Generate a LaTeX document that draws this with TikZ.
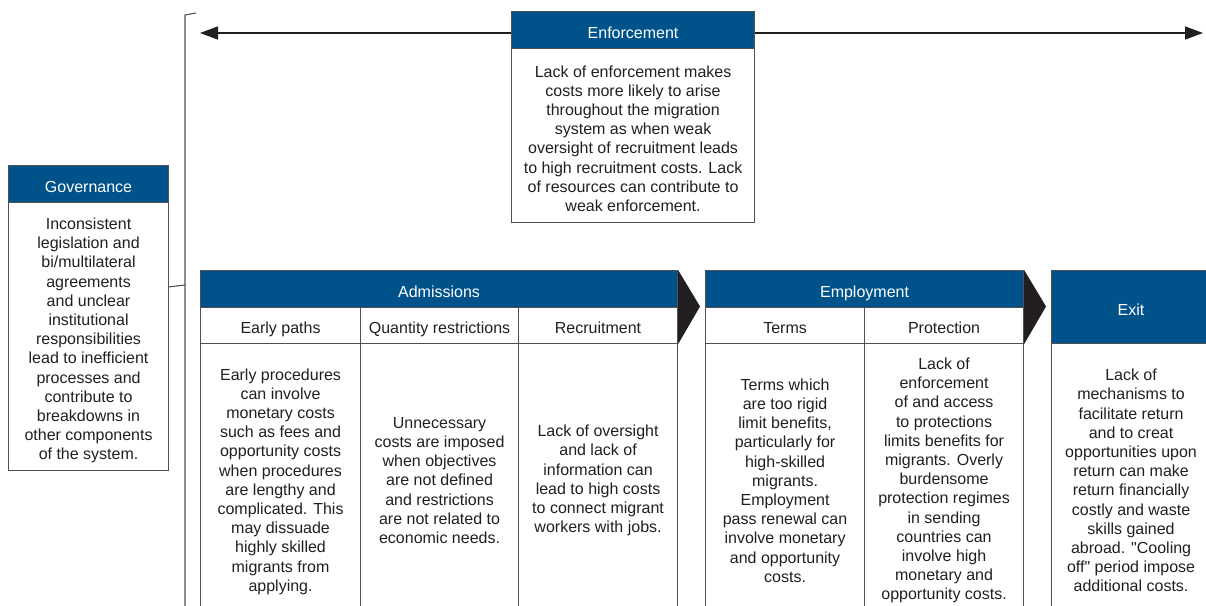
\documentclass[tikz,border=0pt]{standalone}
\usepackage{fontspec}
\setmainfont{Liberation Sans}
\usetikzlibrary{arrows.meta}
\definecolor{hblue}{RGB}{0,83,138}
\definecolor{bord}{RGB}{80,80,80}
\definecolor{ink}{RGB}{35,31,32}
\begin{document}
\begin{tikzpicture}[x=1pt,y=-1pt,
  box/.style={draw=bord, line width=1.1pt, anchor=north west, inner sep=0pt, align=center,
              font=\fontsize{16}{19.2}\selectfont},
  hdr/.style={box, fill=hblue, text=white, text height=16pt, text depth=0pt},
  sub/.style={box, fill=white, text=ink, text height=16pt, text depth=0pt},
  bodybox/.style={box, fill=white, text=ink},
  chev/.style={fill=ink, draw=none}
]
\useasboundingbox (0,0) rectangle (1206,605);
\clip (0,0) rectangle (1206,605);
\fill[white] (0,0) rectangle (1206,605);

% arrow
\coordinate (aL) at (200,33);
\coordinate (aR) at (1203,33);
\draw[ink, line width=1.5pt, {Triangle[length=18pt,width=13pt]}-{Triangle[length=18pt,width=13pt]}] (aL) -- (aR);

% bracket
\coordinate (bT) at (196,13);
\coordinate (bTc) at (185,15);
\coordinate (bB) at (185,620);
\coordinate (bJ) at (185,285);
\draw[bord, line width=1.1pt] (bT) -- (bTc) -- (bB);

% Enforcement
\node[hdr, minimum width=243pt, minimum height=37pt] (enfh) at (511,11) {Enforcement};
\node[bodybox, minimum width=243pt, minimum height=174pt] (enfb) at (511,48)
 {\rule{0pt}{17.7pt}Lack of enforcement makes\\costs more likely to arise\\throughout the migration\\system as when weak\\oversight of recruitment leads\\to high recruitment costs. Lack\\of resources can contribute to\\weak enforcement.};

% Governance
\node[hdr, minimum width=160pt, minimum height=37pt] (govh) at (8,165) {Governance};
\node[bodybox, minimum width=160pt, minimum height=268pt] (govb) at (8,202)
 {\rule{0pt}{19.7pt}Inconsistent\\legislation and\\bi/multilateral\\agreements\\and unclear\\institutional\\responsibilities\\lead to inefficient\\processes and\\contribute to\\breakdowns in\\other components\\of the system.};
\coordinate (gE) at (168,287);
\draw[bord, line width=1.1pt] (gE) -- (bJ);

% Admissions
\node[hdr, minimum width=477pt, minimum height=37pt] (admh) at (200,270) {Admissions};
\node[sub, minimum width=160pt, minimum height=36pt] (eps) at (200,307) {Early paths};
\node[sub, minimum width=158pt, minimum height=36pt] (qrs) at (360,307) {Quantity restrictions};
\node[sub, minimum width=159pt, minimum height=36pt] (recs) at (518,307) {Recruitment};
\node[bodybox, minimum width=160pt, minimum height=274pt] (epb) at (200,343)
 {\rule{0pt}{13.7pt}Early procedures\\can involve\\monetary costs\\such as fees and\\opportunity costs\\when procedures\\are lengthy and\\complicated. This\\may dissuade\\highly skilled\\migrants from\\applying.};
\node[bodybox, minimum width=158pt, minimum height=274pt] (qrb) at (360,343)
 {Unnecessary\\costs are imposed\\when objectives\\are not defined\\and restrictions\\are not related to\\economic needs.};
\node[bodybox, minimum width=159pt, minimum height=274pt] (recb) at (518,343)
 {Lack of oversight\\and lack of\\information can\\lead to high costs\\to connect migrant\\workers with jobs.};
\fill[chev] (admh.north east) -- (700,306.5) -- (recs.south east) -- cycle;

% Employment
\node[hdr, minimum width=318pt, minimum height=37pt] (emph) at (705,270) {Employment};
\node[sub, minimum width=159pt, minimum height=36pt] (tms) at (705,307) {Terms};
\node[sub, minimum width=159pt, minimum height=36pt] (prs) at (864,307) {Protection};
\node[bodybox, minimum width=159pt, minimum height=274pt] (tmb) at (705,343)
 {Terms which\\are too rigid\\limit benefits,\\particularly for\\high-skilled\\migrants.\\Employment\\pass renewal can\\involve monetary\\and opportunity\\costs.};
\node[bodybox, minimum width=159pt, minimum height=274pt] (prb) at (864,343)
 {Lack of\\enforcement\\of and access\\to protections\\limits benefits for\\migrants. Overly\\burdensome\\protection regimes\\in sending\\countries can\\involve high\\monetary and\\opportunity costs.};
\fill[chev] (emph.north east) -- (1046,306.5) -- (prs.south east) -- cycle;

% Exit
\node[hdr, minimum width=159pt, minimum height=73pt] (exh) at (1051,270) {Exit};
\node[bodybox, minimum width=159pt, minimum height=274pt] (exb) at (1051,343)
 {Lack of\\mechanisms to\\facilitate return\\and to creat\\opportunities upon\\return can make\\return financially\\costly and waste\\skills gained\\abroad. \textquotedbl Cooling\\off\textquotedbl\ period impose\\additional costs.};
\end{tikzpicture}
\end{document}
